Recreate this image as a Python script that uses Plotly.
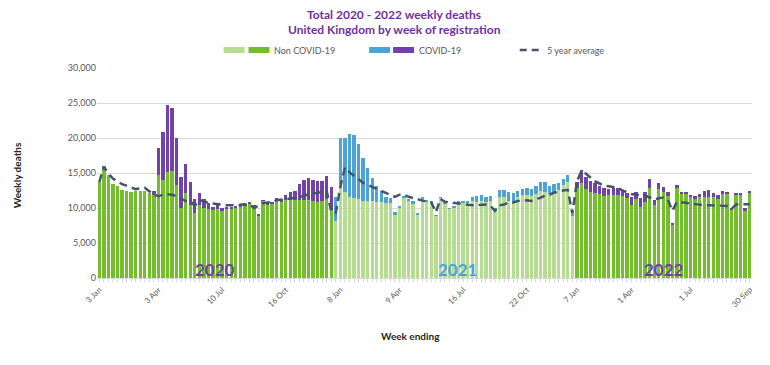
import plotly.graph_objects as go

# ---------------- data ----------------
tick_labels = ["3 Jan", "3 Apr", "10 Jul", "16 Oct", "8 Jan", "9 Apr",
               "16 Jul", "22 Oct", "7 Jan", "1 Apr", "1 Jul", "30 Sep"]
tick_weeks = [0, 13, 27, 41, 53, 66, 80, 94, 105, 117, 130, 143]

noncovid_2020 = [13650, 15950, 14700, 13400, 13150, 12550, 12430, 12330, 12360, 12420,
                 12380, 12100, 11900, 14710, 14000, 15190, 15260, 13350, 10000, 12140,
                 10400, 9240, 10380, 9980, 9900, 9650, 9800, 9550, 9850, 9900,
                 10050, 10200, 10400, 10700, 10250, 8950, 11000, 10550, 10600, 11100,
                 10900, 11140, 11100, 11190, 11140, 11140, 11100, 11000, 10900, 11000,
                 11300, 9710]
covid_2020 = [0, 0, 0, 0, 0, 0, 0, 0, 0, 0,
              0, 0, 600, 3810, 6900, 9460, 8990, 6650, 4380, 4210,
              3380, 2050, 1720, 1260, 800, 550, 600, 380, 310, 250,
              250, 200, 170, 200, 150, 100, 140, 150, 200, 300,
              350, 740, 1200, 1240, 2240, 2860, 3140, 3050, 3020, 2880,
              3300, 3340]

noncovid_2021 = [8130, 13380, 12240, 11620, 11480, 11330, 11050, 11050, 11000, 10900,
                 10810, 10670, 10670, 9000, 9950, 11380, 11000, 10710, 9050, 11350,
                 10950, 10800, 8920, 11450, 10690, 9880, 10000, 10810, 10740, 10800,
                 11000, 10880, 11000, 10810, 11000, 9520, 11620, 11620, 11000, 11000,
                 11520, 11860, 11860, 11710, 11950, 12430, 12330, 12000, 12330, 12570,
                 13290, 13670, 8950]
covid_2021 = [3420, 6620, 7760, 9000, 8950, 7750, 6150, 4650, 3240, 2200,
              1640, 950, 780, 480, 400, 320, 280, 270, 150, 150,
              100, 100, 80, 100, 110, 120, 150, 190, 210, 250,
              620, 770, 860, 740, 750, 480, 950, 950, 1240, 1100,
              960, 900, 1040, 960, 1240, 1330, 1430, 1190, 1050, 1050,
              810, 1040, 150]

noncovid_2022 = [12810, 13620, 12710, 12330, 12100, 12000, 11710, 11800, 11800, 11900,
                 11710, 11380, 10430, 11240, 10190, 10900, 12810, 10430, 12670, 12290,
                 11710, 7600, 12900, 12000, 11950, 11520, 11300, 11520, 11620, 11620,
                 11520, 11240, 11950, 11950, 9700, 11800, 11800, 9700, 12150]
covid_2022 = [950, 1810, 1670, 1570, 1420, 1140, 1100, 910, 1010, 910,
              770, 810, 1190, 1050, 1190, 1430, 1290, 710, 950, 760,
              580, 210, 390, 290, 340, 340, 370, 430, 860, 950,
              580, 570, 480, 380, 340, 300, 300, 250, 330]

five_year_avg = [13700, 15900, 14900, 14200, 13800, 13400, 13200, 12900, 12700, 12800,
                 12900, 12400, 11900, 11700, 11900, 11950, 11900, 11700, 11300, 11000,
                 11000, 10300, 11100, 11000, 10700, 10600, 10500, 10450, 10400, 10400,
                 10400, 10450, 10550, 10550, 10000, 10400, 10700, 10800, 10850, 11100,
                 11150, 11200, 11350, 11450, 11500, 11800, 11900, 12000, 12200, 12300,
                 12400, 9500,
                 9300, 13000, 15800, 15100, 14600, 14000, 13600, 13300, 13000, 12800,
                 12500, 12200, 11900, 11600, 11900, 11900, 11600, 11400, 11200, 11100,
                 10900, 10800, 9400, 11300, 10900, 10800, 10700, 10700, 10600, 10400,
                 10400, 10400, 10400, 10500, 10300, 9600, 10400, 10500, 10800, 10800,
                 11000, 11100, 11100, 11000, 11300, 11450, 11800, 11900, 12200, 12250,
                 12500, 12600, 9200,
                 13760, 15300, 14900, 14300, 13800, 13500, 13200, 13100, 13000, 12900,
                 12500, 12200, 12000, 11900, 11900, 11800, 11500, 11200, 11400, 11500,
                 11200, 9600, 10900, 10800, 10800, 10700, 10500, 10500, 10400, 10400,
                 10400, 10400, 10400, 10300, 9900, 10500, 10550, 10600, 10550]

year_labels = ["2020", "2021", "2022"]

# ---------------- styling ----------------
DARK_GREEN = "#72BE2C"
LIGHT_GREEN = "#B6DC92"
PURPLE = "#7142A8"
BLUE = "#4DA3D6"
LINE = "#44546A"
TITLE = "#7030A0"
FONT = "Lato"

n20, n21, n22 = len(noncovid_2020), len(noncovid_2021), len(noncovid_2022)
x20 = list(range(0, n20))
x21 = list(range(n20, n20 + n21))
x22 = list(range(n20 + n21, n20 + n21 + n22))
xall = list(range(len(five_year_avg)))

fig = go.Figure()
series = [
    (x20, noncovid_2020, DARK_GREEN, "Non COVID-19 2020"),
    (x20, covid_2020, PURPLE, "COVID-19 2020"),
    (x21, noncovid_2021, LIGHT_GREEN, "Non COVID-19 2021"),
    (x21, covid_2021, BLUE, "COVID-19 2021"),
    (x22, noncovid_2022, DARK_GREEN, "Non COVID-19 2022"),
    (x22, covid_2022, PURPLE, "COVID-19 2022"),
]
for xs, ys, col, name in series:
    fig.add_trace(go.Bar(x=xs, y=ys, marker=dict(color=col, line=dict(width=0)),
                         name=name, showlegend=False))

fig.add_trace(go.Scatter(x=xall, y=five_year_avg, mode="lines",
                         line=dict(color=LINE, width=2.5, dash="8px,5px"),
                         name="5 year average", showlegend=False))

# ---------------- layout ----------------
# the page body has an 8px margin, so the figure starts at (8, 8) on screen
OFF = 8
W, H = 770 - 2 * OFF, 365 - 2 * OFF
PL, PR, PT, PB = 97, 754, 68, 278          # plot area in screen coordinates
L, R, T, B = PL - OFF, W - (PR - OFF), PT - OFF, H - (PB - OFF)
pw, ph = PR - PL, PB - PT


def px(x):
    return (x - PL) / pw


def py(y):
    return (PB - y) / ph


shapes = []
annotations = []
# legend swatches
for (x0, x1, col) in [(224, 245, LIGHT_GREEN), (249, 270, DARK_GREEN),
                      (370, 391, BLUE), (394, 415, PURPLE)]:
    shapes.append(dict(type="rect", xref="paper", yref="paper",
                       x0=px(x0), x1=px(x1), y0=py(53), y1=py(47),
                       fillcolor=col, line=dict(width=0)))
shapes.append(dict(type="line", xref="paper", yref="paper",
                   x0=px(521), x1=px(543), y0=py(50), y1=py(50),
                   line=dict(color=LINE, width=2.5, dash="7px,5px")))
for (x0, txt) in [(273, "Non COVID-19"), (418, "COVID-19"), (546, "5 year average")]:
    annotations.append(dict(xref="paper", yref="paper", x=px(x0), y=py(50),
                            xanchor="left", yanchor="middle", text=txt, showarrow=False,
                            font=dict(family=FONT, size=9, color="#595959")))

# year labels
for (xd, txt, col) in [(25.4, year_labels[0], PURPLE), (78.7, year_labels[1], BLUE),
                       (124.1, year_labels[2], PURPLE)]:
    annotations.append(dict(xref="x", yref="paper", x=xd, y=py(269),
                            xanchor="center", yanchor="middle", text="<b>%s</b>" % txt,
                            showarrow=False,
                            font=dict(family=FONT, size=17, color=col)))

annotations.append(dict(xref="paper", yref="paper", x=px(17), y=py(175),
                        text="<b>Weekly deaths</b>", textangle=-90, showarrow=False,
                        xanchor="center", yanchor="middle",
                        font=dict(family=FONT, size=10, color="#262626")))
annotations.append(dict(xref="paper", yref="paper", x=px(411), y=py(336),
                        text="<b>Week ending</b>", showarrow=False,
                        xanchor="center", yanchor="middle",
                        font=dict(family=FONT, size=10, color="#262626")))
annotations.append(dict(xref="paper", yref="paper", x=px(395), y=py(14),
                        text="<b>Total 2020 - 2022 weekly deaths</b>", showarrow=False,
                        xanchor="center", yanchor="middle",
                        font=dict(family=FONT, size=12, color=TITLE)))
annotations.append(dict(xref="paper", yref="paper", x=px(395), y=py(30),
                        text="<b>United Kingdom by week of registration</b>", showarrow=False,
                        xanchor="center", yanchor="middle",
                        font=dict(family=FONT, size=12, color=TITLE)))

fig.update_layout(
    width=W, height=H,
    margin=dict(l=L, r=R, t=T, b=B),
    paper_bgcolor="white", plot_bgcolor="white",
    barmode="stack", bargap=0.26,
    font=dict(family=FONT, size=9, color="#595959"),
    shapes=shapes, annotations=annotations,
    showlegend=False,
    xaxis=dict(range=[-0.5, len(five_year_avg) - 0.5], tickmode="array",
               tickvals=tick_weeks, ticktext=tick_labels, tickangle=-45,
               showgrid=False, zeroline=False, showline=True, linecolor="#d9d9d9",
               ticks="outside", ticklen=3, tickcolor="#d9d9d9",
               tickfont=dict(family=FONT, size=8, color="#595959"),
               minor=dict(ticks="outside", ticklen=3, tickcolor="#d9d9d9",
                          dtick=1, tick0=0, showgrid=False)),
    yaxis=dict(range=[0, 30000], dtick=5000, tickformat=",",
               showgrid=True, gridcolor="#d9d9d9", gridwidth=1, zeroline=False,
               ticks="", tickfont=dict(family=FONT, size=9, color="#595959")),
)

fig.write_html("out.html")
